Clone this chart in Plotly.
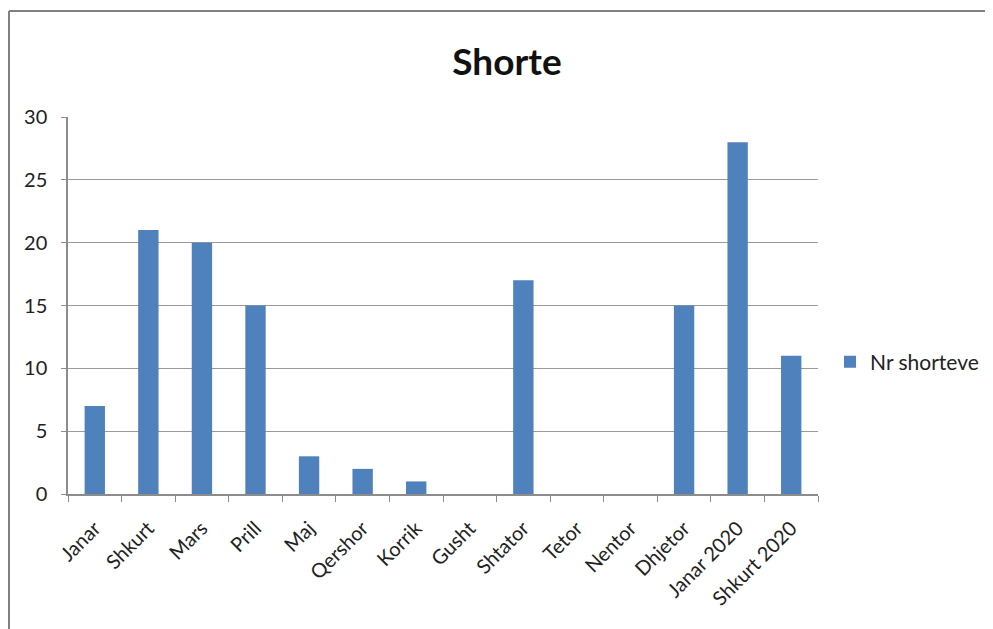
import plotly.graph_objects as go

categories = ["Janar", "Shkurt", "Mars", "Prill", "Maj", "Qershor", "Korrik", "Gusht",
              "Shtator", "Tetor", "Nentor", "Dhjetor", "Janar 2020", "Shkurt 2020"]
values = [7, 21, 20, 15, 3, 2, 1, 0, 17, 0, 0, 15, 28, 11]
series_name = "Nr shorteve"
title_text = "Shorte"

OFF = 8  # default page body margin
W, H = 993 - OFF, 629 - OFF
L, R, T, B = 68 - OFF, 175, 117 - OFF, 135
pw, ph = W - L - R, H - T - B

def px_x(px):
    return (px - OFF - L) / pw

def px_y(py):
    return (H - B - (py - OFF)) / ph

fig = go.Figure()
fig.add_trace(go.Bar(x=categories, y=values, name=series_name,
                     marker=dict(color="#4F81BD", line=dict(width=0)),
                     showlegend=True))

font_family = "Lato, Open Sans, Liberation Sans, sans-serif"
fig.update_layout(
    width=W, height=H,
    margin=dict(l=L, r=R, t=T, b=B, autoexpand=False),
    paper_bgcolor="white", plot_bgcolor="white",
    bargap=0.62,
    font=dict(family=font_family, color="#222", size=15),
    title=dict(text="<b>" + title_text + "</b>", x=(507 - OFF) / W, xanchor="center",
               y=1 - (62 - OFF) / H, yanchor="middle",
               font=dict(size=37, family=font_family, color="#111")),
    xaxis=dict(tickangle=-45, ticks="outside", tickson="boundaries", ticklen=6,
               tickcolor="#8c8c8c", showline=True, linecolor="#8c8c8c", linewidth=1.5,
               showgrid=False, ticklabelstandoff=13,
               tickfont=dict(size=20, family=font_family, color="#222")),
    yaxis=dict(range=[0, 30], dtick=5, ticks="outside", ticklen=5, tickcolor="#8c8c8c",
               showline=True, linecolor="#8c8c8c", linewidth=1.5,
               showgrid=True, gridcolor="#9a9a9a", gridwidth=1, zeroline=False,
               ticklabelstandoff=10,
               tickfont=dict(size=20, family=font_family, color="#222")),
    legend=dict(x=px_x(830), y=px_y(362), xanchor="left", yanchor="middle",
                font=dict(size=21, family=font_family, color="#222"),
                itemwidth=30, bgcolor="rgba(0,0,0,0)"),
    shapes=[
        dict(type="line", xref="paper", yref="paper", x0=px_x(9), x1=px_x(1000),
             y0=px_y(11), y1=px_y(11), line=dict(color="#808080", width=2)),
        dict(type="line", xref="paper", yref="paper", x0=px_x(9), x1=px_x(9),
             y0=px_y(11), y1=px_y(640), line=dict(color="#808080", width=2)),
    ],
)

fig.write_html("out.html")
